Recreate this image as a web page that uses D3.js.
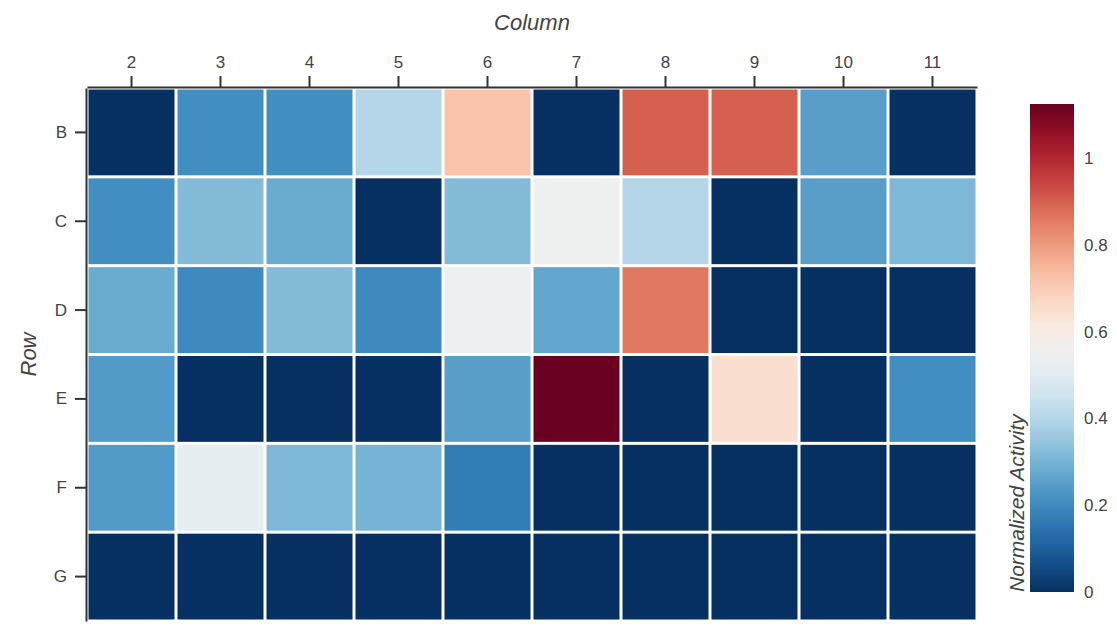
<!DOCTYPE html>
<html>
<head>
<meta charset="utf-8">
<script src="https://cdn.jsdelivr.net/npm/d3@7"></script>
<style>
  html, body { margin: 0; padding: 0; background: #fff; }
  svg { display: block; font-family: "Liberation Sans", Arial, sans-serif; }
</style>
</head>
<body>
<svg id="chart" width="1117" height="632"></svg>
<script>
// Plate layout: columns 2–11, rows B–G
const columns = ["2", "3", "4", "5", "6", "7", "8", "9", "10", "11"];
const rows = ["B", "C", "D", "E", "F", "G"];

// Normalized activity per row, one value per column
const rowB = [0.00, 0.21, 0.21, 0.40, 0.72, 0.00, 0.90, 0.90, 0.25, 0.00];
const rowC = [0.21, 0.32, 0.28, 0.00, 0.32, 0.55, 0.40, 0.00, 0.25, 0.31];
const rowD = [0.28, 0.20, 0.32, 0.20, 0.54, 0.27, 0.86, 0.00, 0.00, 0.00];
const rowE = [0.24, 0.00, 0.00, 0.00, 0.25, 1.12, 0.00, 0.65, 0.00, 0.21];
const rowF = [0.24, 0.52, 0.31, 0.30, 0.17, 0.00, 0.00, 0.00, 0.00, 0.00];
const rowG = [0.00, 0.00, 0.00, 0.00, 0.00, 0.00, 0.00, 0.00, 0.00, 0.00];

const colorTicks = [0, 0.2, 0.4, 0.6, 0.8, 1];
const colorMax = 1.125;

const rowValues = [rowB, rowC, rowD, rowE, rowF, rowG];
const cells = [];
rows.forEach((r, i) => {
  columns.forEach((c, j) => cells.push({ row: r, col: c, value: rowValues[i][j] }));
});

const svg = d3.select("#chart");
const plot = { left: 87, top: 88, right: 977, bottom: 621 };

const x = d3.scaleBand().domain(columns).range([plot.left, plot.right]);
const y = d3.scaleBand().domain(rows).range([plot.top, plot.bottom]);
const color = d3.scaleSequential(t => d3.interpolateRdBu(1 - t)).domain([0, colorMax]);

// Cells
svg.append("g")
  .selectAll("rect")
  .data(cells)
  .join("rect")
  .attr("x", d => x(d.col) + 1.5)
  .attr("y", d => y(d.row) + 1.5)
  .attr("width", x.bandwidth() - 3)
  .attr("height", y.bandwidth() - 3)
  .attr("fill", d => color(d.value));

// Axes
const axisColor = "#333";
const labelColor = "#444";
const tickFont = "17px";
const titleFont = "22px";

const topAxis = svg.append("g")
  .attr("transform", `translate(0,${plot.top - 1})`)
  .call(d3.axisTop(x).tickSize(11).tickPadding(8).tickSizeOuter(0));
const leftAxis = svg.append("g")
  .attr("transform", `translate(${plot.left - 1},0)`)
  .call(d3.axisLeft(y).tickSize(11).tickPadding(8).tickSizeOuter(0));

[topAxis, leftAxis].forEach(g => {
  g.select(".domain").attr("stroke", axisColor).attr("stroke-width", 2);
  g.selectAll(".tick line").attr("stroke", axisColor).attr("stroke-width", 2);
  g.selectAll(".tick text")
    .attr("fill", labelColor)
    .style("font-size", tickFont)
    .style("font-family", "'Liberation Sans', Arial, sans-serif");
});

svg.append("text")
  .attr("x", (plot.left + plot.right) / 2)
  .attr("y", 30)
  .attr("text-anchor", "middle")
  .attr("fill", labelColor)
  .style("font-size", titleFont)
  .style("font-style", "italic")
  .text("Column");

svg.append("text")
  .attr("transform", `translate(36,${(plot.top + plot.bottom) / 2}) rotate(-90)`)
  .attr("text-anchor", "middle")
  .attr("fill", labelColor)
  .style("font-size", titleFont)
  .style("font-style", "italic")
  .text("Row");

// Color bar
const bar = { x: 1030, width: 44, top: 104, bottom: 592 };
const cbScale = d3.scaleLinear().domain([0, colorMax]).range([bar.bottom, bar.top]);

const defs = svg.append("defs");
const grad = defs.append("linearGradient")
  .attr("id", "activity-gradient")
  .attr("x1", "0%").attr("y1", "100%")
  .attr("x2", "0%").attr("y2", "0%");
d3.range(0, 1.0001, 0.05).forEach(t => {
  grad.append("stop")
    .attr("offset", `${t * 100}%`)
    .attr("stop-color", color(t * colorMax));
});

svg.append("rect")
  .attr("x", bar.x)
  .attr("y", bar.top)
  .attr("width", bar.width)
  .attr("height", bar.bottom - bar.top)
  .attr("fill", "url(#activity-gradient)");

const cbAxis = svg.append("g")
  .attr("transform", `translate(${bar.x + bar.width},0)`)
  .call(d3.axisRight(cbScale).tickValues(colorTicks).tickFormat(d3.format("~g")).tickSize(0).tickPadding(10));
cbAxis.select(".domain").remove();
cbAxis.selectAll(".tick text")
  .attr("fill", labelColor)
  .style("font-size", tickFont)
  .style("font-family", "'Liberation Sans', Arial, sans-serif");

svg.append("text")
  .attr("transform", `translate(1024,${bar.bottom}) rotate(-90)`)
  .attr("text-anchor", "start")
  .attr("fill", labelColor)
  .style("font-size", "21px")
  .style("font-style", "italic")
  .text("Normalized Activity");
</script>
</body>
</html>
